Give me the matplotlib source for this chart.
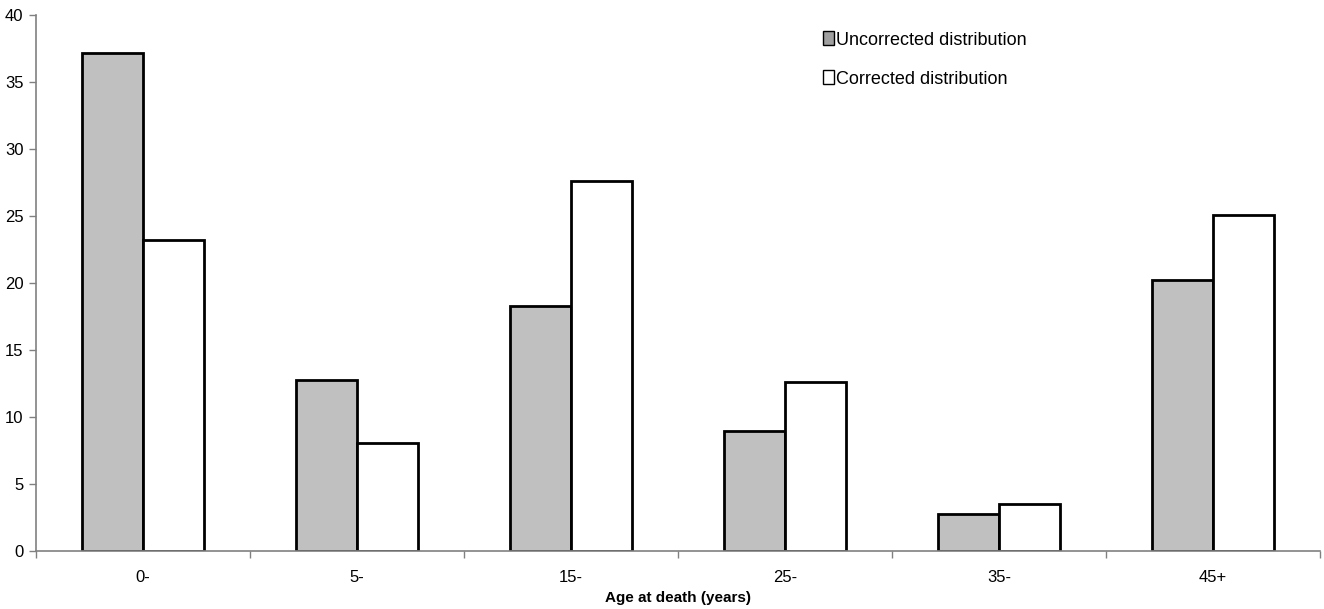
import matplotlib
matplotlib.use("Agg")
import matplotlib.pyplot as plt
import numpy as np
from matplotlib.patches import Patch

plt.rcParams['font.family'] = ['Liberation Sans', 'DejaVu Sans']

categories = ["0-", "5-", "15-", "25-", "35-", "45+"]
uncorrected = [37.2, 12.8, 18.3, 8.95, 2.75, 20.2]
corrected = [23.2, 8.05, 27.6, 12.6, 3.5, 25.1]

fig = plt.figure(figsize=(13.24, 6.09), dpi=100)
ax = fig.add_axes([0.0272, 0.0952, 0.9698, 0.8798])

x = np.arange(len(categories))
w = 0.285
ax.bar(x - w/2, uncorrected, w, color="#c0c0c0", edgecolor="black", linewidth=2, zorder=3)
ax.bar(x + w/2, corrected, w, color="white", edgecolor="black", linewidth=2, zorder=3)

ax.set_xlim(-0.5, len(categories) - 0.5)
ax.set_ylim(0, 40)
ax.set_yticks(np.arange(0, 41, 5))
ax.set_xticks(np.arange(-0.5, len(categories), 1.0))
ax.set_xticklabels([])
ax.set_xticks(x, minor=True)
ax.set_xticklabels(categories, minor=True)
ax.tick_params(axis='x', which='major', direction='out', length=5, color='#808080', width=1)
ax.tick_params(axis='x', which='minor', length=0, pad=14, labelsize=12)
ax.tick_params(axis='y', direction='out', length=5, color='#808080', width=1, labelsize=12, pad=4)

for s in ['top', 'right']:
    ax.spines[s].set_visible(False)
for s in ['left', 'bottom']:
    ax.spines[s].set_color('#808080')
    ax.spines[s].set_linewidth(1.2)
ax.spines['bottom'].set_zorder(4)

ax.set_xlabel("Age at death (years)", fontweight='bold', fontsize=11)
ax.xaxis.set_label_coords(0.5, -0.088)
ax.xaxis.label.set_va('center')

handles = [Patch(facecolor="#a0a0a0", edgecolor="black", linewidth=1),
           Patch(facecolor="white", edgecolor="black", linewidth=1)]
leg = ax.legend(handles, ["Uncorrected distribution", "Corrected distribution"],
                loc='upper left', bbox_to_anchor=(0.6, 1.0), frameon=False,
                fontsize=13, handlelength=0.6, handleheight=0.8, handletextpad=0.15,
                labelspacing=1.2)

fig.savefig("out.png", dpi=100)
